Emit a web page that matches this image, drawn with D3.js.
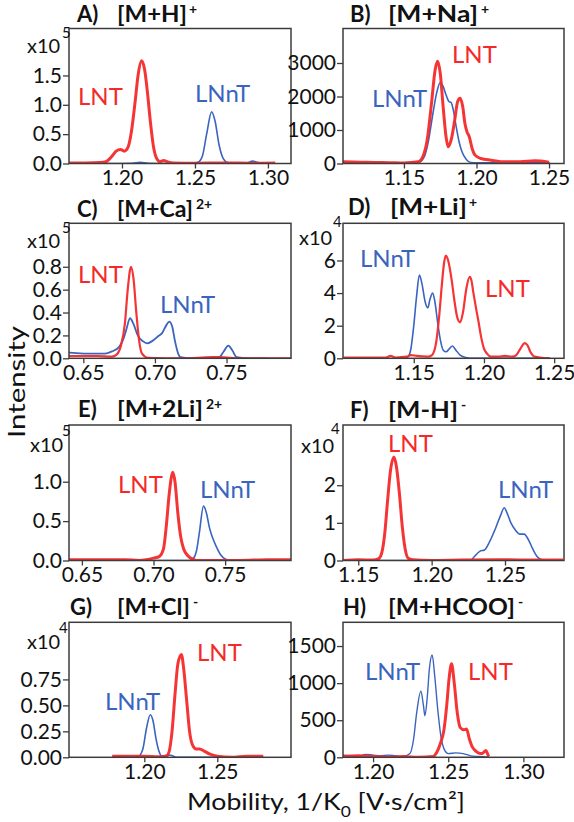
<!DOCTYPE html>
<html><head><meta charset="utf-8">
<script src="https://cdn.jsdelivr.net/npm/d3@7"></script>
<style>
body{margin:0;background:#fff}
svg{display:block}
text{font-family:Lato,"Open Sans",sans-serif;fill:#111}
</style>
</head><body>
<svg id="chart" width="574" height="822"></svg>
<script>
// ---------------- data (mobility 1/K0, intensity) ----------------
// A) [M+H]+  (x10^5)
const aLNT = [[1.164,0.01],[1.175,0.01],[1.185,0.015],[1.189,0.03],[1.193,0.12],[1.196,0.21],[1.199,0.24],[1.2015,0.21],[1.204,0.27],[1.2065,0.55],[1.209,1.05],[1.211,1.5],[1.2135,1.75],[1.2155,1.6],[1.2175,1.2],[1.2195,0.7],[1.2215,0.3],[1.2235,0.1],[1.226,0.03],[1.2285,0.05],[1.231,0.03],[1.235,0.01],[1.25,0.005],[1.27,0.01],[1.29,0.005],[1.305,0.01]];
const aLNnT = [[1.164,0.0],[1.19,0.0],[1.207,0.005],[1.2125,0.02],[1.218,0.005],[1.23,0.0],[1.248,0.0],[1.252,0.02],[1.255,0.12],[1.258,0.5],[1.2614,0.88],[1.2638,0.72],[1.2665,0.32],[1.2695,0.08],[1.273,0.01],[1.285,0.0],[1.2895,0.04],[1.294,0.01],[1.301,0.0]];
// B) [M+Na]+  (counts)
const bLNT = [[1.108,50],[1.12,40],[1.13,30],[1.14,25],[1.15,15],[1.16,50],[1.163,200],[1.166,700],[1.169,1800],[1.1715,2800],[1.1732,3050],[1.175,2700],[1.177,1700],[1.179,800],[1.1805,500],[1.1825,700],[1.185,1300],[1.187,1850],[1.1887,1950],[1.1905,1700],[1.192,1200],[1.1934,950],[1.195,800],[1.197,450],[1.199,250],[1.203,150],[1.21,100],[1.22,50],[1.23,50],[1.24,80],[1.25,40]];
const bLNnT = [[1.108,30],[1.13,20],[1.15,20],[1.16,40],[1.164,200],[1.167,700],[1.170,1500],[1.1725,2100],[1.175,2420],[1.177,2300],[1.179,2050],[1.181,1850],[1.1825,1820],[1.184,1600],[1.186,1100],[1.188,650],[1.190,350],[1.193,120],[1.196,30],[1.20,20],[1.21,20],[1.23,20],[1.2505,20]];
// C) [M+Ca]2+  (x10^5)
const cLNT = [[0.64,0.02],[0.66,0.02],[0.67,0.015],[0.673,0.03],[0.676,0.1],[0.679,0.3],[0.681,0.6],[0.6833,0.8],[0.685,0.7],[0.687,0.4],[0.689,0.15],[0.691,0.04],[0.695,0.005],[0.72,0.0],[0.74,0.01],[0.745,0.01],[0.76,0.0],[0.795,0.0]];
const cLNnT = [[0.64,0.05],[0.645,0.045],[0.655,0.04],[0.665,0.04],[0.67,0.06],[0.675,0.1],[0.678,0.17],[0.68,0.25],[0.6826,0.35],[0.685,0.3],[0.688,0.2],[0.6915,0.15],[0.6945,0.13],[0.698,0.15],[0.702,0.19],[0.705,0.22],[0.708,0.29],[0.710,0.32],[0.712,0.28],[0.714,0.15],[0.716,0.05],[0.7178,0.01],[0.725,0.0],[0.735,0.0],[0.745,0.01],[0.748,0.06],[0.7512,0.11],[0.754,0.07],[0.757,0.01],[0.765,0.0],[0.779,0.0]];
// D) [M+Li]+  (x10^4)
const dLNT = [[1.10,0.05],[1.12,0.05],[1.13,0.05],[1.1335,0.15],[1.137,0.05],[1.145,0.1],[1.148,0.2],[1.152,0.15],[1.16,0.1],[1.163,0.2],[1.166,1.0],[1.168,2.5],[1.170,4.5],[1.1715,5.8],[1.1728,6.3],[1.1745,6.0],[1.177,4.8],[1.179,3.5],[1.181,2.5],[1.183,2.2],[1.185,2.8],[1.1875,4.3],[1.1898,5.0],[1.191,4.8],[1.1925,4.0],[1.1945,3.0],[1.196,2.3],[1.198,1.3],[1.200,0.6],[1.202,0.3],[1.205,0.1],[1.21,0.1],[1.215,0.15],[1.22,0.1],[1.223,0.2],[1.226,0.6],[1.229,0.93],[1.231,0.8],[1.233,0.4],[1.236,0.1],[1.24,0.05],[1.247,0.0]];
const dLNnT = [[1.143,0.0],[1.146,0.1],[1.148,0.6],[1.150,2.0],[1.152,3.8],[1.154,5.1],[1.156,4.5],[1.158,3.5],[1.160,3.1],[1.1615,3.6],[1.1634,4.0],[1.165,3.5],[1.167,2.2],[1.169,1.1],[1.171,0.5],[1.173,0.4],[1.1755,0.6],[1.1775,0.75],[1.18,0.5],[1.183,0.2],[1.187,0.05],[1.19,0.0],[1.21,0.0],[1.23,0.0],[1.247,0.0]];
// E) [M+2Li]2+  (x10^5)
const eLNT = [[0.641,0.01],[0.66,0.01],[0.68,0.01],[0.69,0.0],[0.695,0.01],[0.70,0.03],[0.704,0.05],[0.707,0.15],[0.709,0.45],[0.711,0.85],[0.7135,1.12],[0.715,1.0],[0.717,0.6],[0.719,0.3],[0.721,0.15],[0.724,0.06],[0.727,0.02],[0.73,0.0],[0.76,0.0],[0.78,0.01],[0.796,0.01]];
const eLNnT = [[0.641,0.01],[0.68,0.01],[0.70,0.0],[0.725,0.0],[0.728,0.03],[0.730,0.12],[0.732,0.35],[0.7349,0.69],[0.737,0.6],[0.739,0.42],[0.741,0.3],[0.744,0.17],[0.747,0.07],[0.750,0.02],[0.755,0.0],[0.79,0.0]];
// F) [M-H]-  (x10^4)
const fLNT = [[1.1396,0.0],[1.15,0.02],[1.16,0.01],[1.164,0.05],[1.166,0.2],[1.168,0.7],[1.170,1.6],[1.172,2.4],[1.1743,2.75],[1.176,2.5],[1.178,1.8],[1.180,0.9],[1.182,0.3],[1.184,0.06],[1.187,0.02],[1.20,0.0],[1.22,0.01],[1.25,0.02],[1.27,0.01],[1.2895,0.01]];
const fLNnT = [[1.16,0.0],[1.18,0.0],[1.2266,0.0],[1.229,0.1],[1.233,0.25],[1.236,0.28],[1.2395,0.5],[1.2435,0.85],[1.247,1.2],[1.2495,1.4],[1.251,1.3],[1.254,1.0],[1.2573,0.8],[1.260,0.7],[1.263,0.7],[1.266,0.55],[1.269,0.3],[1.272,0.1],[1.275,0.02],[1.28,0.0]];
// G) [M+Cl]-  (x10^4)
const gLNT = [[1.178,0.01],[1.19,0.01],[1.20,0.01],[1.21,0.005],[1.215,0.01],[1.2169,0.05],[1.219,0.25],[1.221,0.6],[1.223,0.9],[1.2254,0.99],[1.227,0.85],[1.229,0.55],[1.231,0.25],[1.233,0.12],[1.2356,0.08],[1.238,0.08],[1.241,0.06],[1.245,0.03],[1.25,0.01],[1.26,0.0],[1.27,0.01],[1.2815,0.01]];
const gLNnT = [[1.178,0.0],[1.185,0.01],[1.19,0.0],[1.196,0.01],[1.199,0.08],[1.2015,0.28],[1.2041,0.41],[1.206,0.35],[1.208,0.18],[1.21,0.06],[1.212,0.01],[1.215,0.02],[1.218,0.02],[1.222,0.0],[1.24,0.0],[1.26,0.0],[1.2815,0.0]];
// H) [M+HCOO]-  (counts)
const hLNT = [[1.18,10],[1.19,20],[1.20,10],[1.21,0],[1.22,10],[1.23,0],[1.24,10],[1.2422,60],[1.245,200],[1.247,350],[1.249,700],[1.2505,1050],[1.2522,1260],[1.254,1000],[1.256,600],[1.258,400],[1.2605,370],[1.2622,380],[1.264,250],[1.266,140],[1.268,90],[1.270,60],[1.2725,50],[1.2751,90],[1.2765,30],[1.277,10]];
const hLNnT = [[1.18,30],[1.185,20],[1.19,10],[1.195,40],[1.20,30],[1.205,20],[1.21,30],[1.215,20],[1.22,10],[1.2245,50],[1.227,250],[1.229,600],[1.2318,890],[1.2335,700],[1.2345,560],[1.236,800],[1.2375,1200],[1.2393,1380],[1.241,1100],[1.243,650],[1.245,300],[1.2475,100],[1.25,50],[1.255,60],[1.26,50],[1.265,20],[1.27,10],[1.277,0]];

// axis extents and tick labels
const aXDomain=[1.1637,1.3158], aYDomain=[0,2.30], aXTicks=[1.20,1.25,1.30], aYTicks=[0,0.5,1.0,1.5];
const bXDomain=[1.108,1.2603],  bYDomain=[0,4030], bXTicks=[1.15,1.20,1.25], bYTicks=[0,1000,2000,3000];
const cXDomain=[0.64,0.795],    cYDomain=[0,1.18], cXTicks=[0.65,0.70,0.75], cYTicks=[0,0.2,0.4,0.6,0.8];
const dXDomain=[1.0996,1.257],  dYDomain=[0,8.28], dXTicks=[1.15,1.20,1.25], dYTicks=[0,2,4,6];
const eXDomain=[0.641,0.796],   eYDomain=[0,1.72], eXTicks=[0.65,0.70,0.75], eYTicks=[0,0.5,1.0];
const fXDomain=[1.1396,1.2902], fYDomain=[0,3.6],  fXTicks=[1.15,1.20,1.25], fYTicks=[0,1,2];
const gXDomain=[1.1484,1.3005], gYDomain=[0,1.30], gXTicks=[1.20,1.25], gYTicks=[0,0.25,0.5,0.75];
const hXDomain=[1.18,1.327],    hYDomain=[0,1820], hXTicks=[1.20,1.25,1.30], hYTicks=[0,500,1000,1500];

const panelLetters = ["A)","B)","C)","D)","E)","F)","G)","H)"];
const ionNames = ["[M+H]","[M+Na]","[M+Ca]","[M+Li]","[M+2Li]","[M-H]","[M+Cl]","[M+HCOO]"];
const ionCharges = ["+","+","2+","+","2+","-","-","-"];
const exponents = ["5","","5","4","5","4","4",""];
const yFormats = [".1f","d",".1f","d",".1f","d",".2f","d"];

// ---------------- layout ----------------
const RED="#f42a2a", BLUE="#3a64c0", FRAME="#3c3c3c";
const L = {x0:69, x1:291}, R = {x0:343, x1:564};
const rows = [[28.5,163.5],[223.3,358.3],[425,560.5],[622.3,757.3]];
const panels = [
 {col:L,row:0,xd:aXDomain,yd:aYDomain,xt:aXTicks,yt:aYTicks,lnt:aLNT,lnnt:aLNnT,rw:3,bw:1.6,
  lab:{lnt:[78,105],lnnt:[195,102]},tl:[77,22],ti:[117,70],sx:189,ex:{x10:[27,53],e:[62,38]}},
 {col:R,row:0,xd:bXDomain,yd:bYDomain,xt:bXTicks,yt:bYTicks,lnt:bLNT,lnnt:bLNnT,rw:3,bw:1.6,
  lab:{lnt:[452,63],lnnt:[372,107]},tl:[350,22],ti:[388,90],sx:481},
 {col:L,row:1,xd:cXDomain,yd:cYDomain,xt:cXTicks,yt:cYTicks,lnt:cLNT,lnnt:cLNnT,rw:2.2,bw:1.8,
  lab:{lnt:[78,283],lnnt:[160,313]},tl:[77,217],ti:[117,76],sx:196,ex:{x10:[27,248],e:[62,233]}},
 {col:R,row:1,xd:dXDomain,yd:dYDomain,xt:dXTicks,yt:dYTicks,lnt:dLNT,lnnt:dLNnT,rw:2.2,bw:1.6,
  lab:{lnt:[485,297],lnnt:[360,267]},tl:[348,215],ti:[390,77],sx:469,ex:{x10:[299,245],e:[333,227]}},
 {col:L,row:2,xd:eXDomain,yd:eYDomain,xt:eXTicks,yt:eYTicks,lnt:eLNT,lnnt:eLNnT,rw:3,bw:1.6,
  lab:{lnt:[118,493],lnnt:[200,498]},tl:[78,417],ti:[117,86],sx:206,ex:{x10:[30,452],e:[62,436]}},
 {col:R,row:2,xd:fXDomain,yd:fYDomain,xt:fXTicks,yt:fYTicks,lnt:fLNT,lnnt:fLNnT,rw:3,bw:1.6,
  lab:{lnt:[388,452],lnnt:[498,498]},tl:[350,418],ti:[388,70],sx:461,ex:{x10:[301,453],e:[331,434]}},
 {col:L,row:3,xd:gXDomain,yd:gYDomain,xt:gXTicks,yt:gYTicks,lnt:gLNT,lnnt:gLNnT,rw:3,bw:1.6,
  lab:{lnt:[197,661],lnnt:[105,710]},tl:[70,615],ti:[117,73],sx:193,ex:{x10:[27,649],e:[59,633]}},
 {col:R,row:3,xd:hXDomain,yd:hYDomain,xt:hXTicks,yt:hYTicks,lnt:hLNT,lnnt:hLNnT,rw:3,bw:1.4,
  lab:{lnt:[468,680],lnnt:[365,680]},tl:[343,615],ti:[388,127],sx:518}
];

const svg = d3.select("#chart");
svg.append("rect").attr("width",574).attr("height",822).attr("fill","#fff");

panels.forEach((p,i)=>{
  const [top,bot] = rows[p.row];
  const x = d3.scaleLinear().domain(p.xd).range([p.col.x0,p.col.x1]);
  const y = d3.scaleLinear().domain(p.yd).range([bot,top]);
  const g = svg.append("g");
  const clipId = "clip"+i;
  g.append("clipPath").attr("id",clipId).append("rect")
    .attr("x",p.col.x0).attr("y",top-2).attr("width",p.col.x1-p.col.x0).attr("height",bot-top+2);

  const line = d3.line().x(d=>x(d[0])).y(d=>y(d[1])).curve(d3.curveMonotoneX);
  const plot = g.append("g").attr("clip-path",`url(#${clipId})`);
  plot.append("path").datum(p.lnnt).attr("d",line).attr("fill","none")
    .attr("stroke",BLUE).attr("stroke-width",p.bw).attr("stroke-linejoin","round");
  plot.append("path").datum(p.lnt).attr("d",line).attr("fill","none")
    .attr("stroke",RED).attr("stroke-width",p.rw).attr("stroke-linejoin","round").attr("stroke-opacity",0.95);

  // frame
  g.append("rect").attr("x",p.col.x0).attr("y",top).attr("width",p.col.x1-p.col.x0).attr("height",bot-top)
    .attr("fill","none").attr("stroke",FRAME).attr("stroke-width",1.5);

  // axes
  const xa = g.append("g").attr("transform",`translate(0,${bot})`)
    .call(d3.axisBottom(x).tickValues(p.xt).tickFormat(d3.format(".2f")).tickSize(5).tickPadding(2).tickSizeOuter(0));
  const ya = g.append("g").attr("transform",`translate(${p.col.x0},0)`)
    .call(d3.axisLeft(y).tickValues(p.yt).tickFormat(d3.format(yFormats[i])).tickSize(6).tickPadding(1).tickSizeOuter(0));
  [xa,ya].forEach(a=>{
    a.select(".domain").remove();
    a.selectAll(".tick line").attr("stroke",FRAME).attr("stroke-width",1.3);
    a.selectAll(".tick text").attr("font-size",21).attr("font-family","Lato").attr("fill","#111");
  });

  // multiplier
  if (p.ex){
    g.append("text").attr("x",p.ex.x10[0]).attr("y",p.ex.x10[1]).attr("font-size",20).text("x10");
    g.append("text").attr("x",p.ex.e[0]).attr("y",p.ex.e[1]).attr("font-size",15).text(exponents[i]);
  }

  // series labels
  g.append("text").attr("x",p.lab.lnt[0]).attr("y",p.lab.lnt[1]).attr("font-size",24)
    .style("fill",RED).text("LNT");
  g.append("text").attr("x",p.lab.lnnt[0]).attr("y",p.lab.lnnt[1]).attr("font-size",24)
    .style("fill",BLUE).text("LNnT");

  // title
  g.append("text").attr("x",p.tl[0]).attr("y",p.tl[1]).attr("font-size",22).attr("font-weight",700)
    .text(panelLetters[i]);
  g.append("text").attr("x",p.ti[0]).attr("y",p.tl[1]).attr("font-size",22).attr("font-weight",700)
    .attr("textLength",p.ti[1]).attr("lengthAdjust","spacingAndGlyphs").text(ionNames[i]);
  g.append("text").attr("x",p.sx).attr("y",p.tl[1]-8).attr("font-size",14).attr("font-weight",700)
    .text(ionCharges[i]);
});

// axis titles
svg.append("text").attr("transform","translate(25,382) rotate(-90)").attr("text-anchor","middle")
  .attr("font-size",24).attr("textLength",112).attr("lengthAdjust","spacingAndGlyphs").text("Intensity");
const xt = svg.append("text").attr("x",187).attr("y",810).attr("font-size",23)
  .attr("textLength",278).attr("lengthAdjust","spacingAndGlyphs");
xt.append("tspan").text("Mobility, 1/K");
xt.append("tspan").attr("font-size",15).attr("dy",7).text("0");
xt.append("tspan").attr("dy",-7).text(" [V·s/cm²]");
</script>
</body></html>
